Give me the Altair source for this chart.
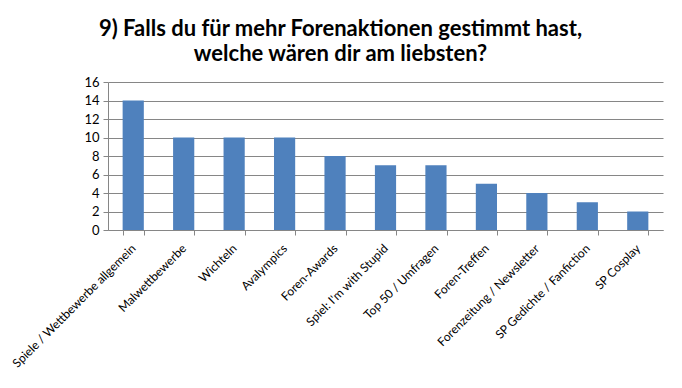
import altair as alt
import pandas as pd

categories = [
    "Spiele / Wettbewerbe allgemein",
    "Malwettbewerbe",
    "Wichteln",
    "Avalympics",
    "Foren-Awards",
    "Spiel: I'm with  Stupid",
    "Top 50 / Umfragen",
    "Foren-Treffen",
    "Forenzeitung / Newsletter",
    "SP Gedichte / Fanfiction",
    "SP Cosplay",
]
values = [14, 10, 10, 10, 8, 7, 7, 5, 4, 3, 2]
title_lines = ["9) Falls du für mehr Forenaktionen gestimmt hast,", "welche wären dir am liebsten?"]

df = pd.DataFrame({"cat": categories, "val": values})

FONT = "Lato"

chart = alt.Chart(df).mark_bar(color="#4F81BD").encode(
    x=alt.X("cat:N", sort=categories, title=None,
            scale=alt.Scale(paddingInner=0.58, paddingOuter=0.29),
            axis=alt.Axis(labelAngle=-45, labelAlign="right", labelBaseline="middle",
                          labelFont=FONT, labelFontSize=12, labelColor="#000000",
                          labelPadding=11, labelLimit=300,
                          domainColor="#868686", tickColor="#868686", tickSize=5,
                          tickBand="extent", grid=False)),
    y=alt.Y("val:Q", title=None,
            scale=alt.Scale(domain=[0, 16], nice=False),
            axis=alt.Axis(values=list(range(0, 17, 2)), labelFont=FONT, labelFontSize=13,
                          labelColor="#000000", domainColor="#868686", tickColor="#868686",
                          tickSize=5, gridColor="#868686", gridOpacity=1, labelPadding=4)),
).properties(
    width=555,
    height=148,
    autosize=alt.AutoSizeParams(type="none"),
    title=alt.TitleParams(text=title_lines, font=FONT, fontSize=22, fontWeight="bold",
                          color="#000000", anchor="middle", dx=-45, offset=10, lineHeight=25),
    padding={"left": 100, "top": 74, "right": 11, "bottom": 150},
).configure_view(stroke=None)

chart.save("out.html", embed_options={"renderer": "svg", "actions": False})
